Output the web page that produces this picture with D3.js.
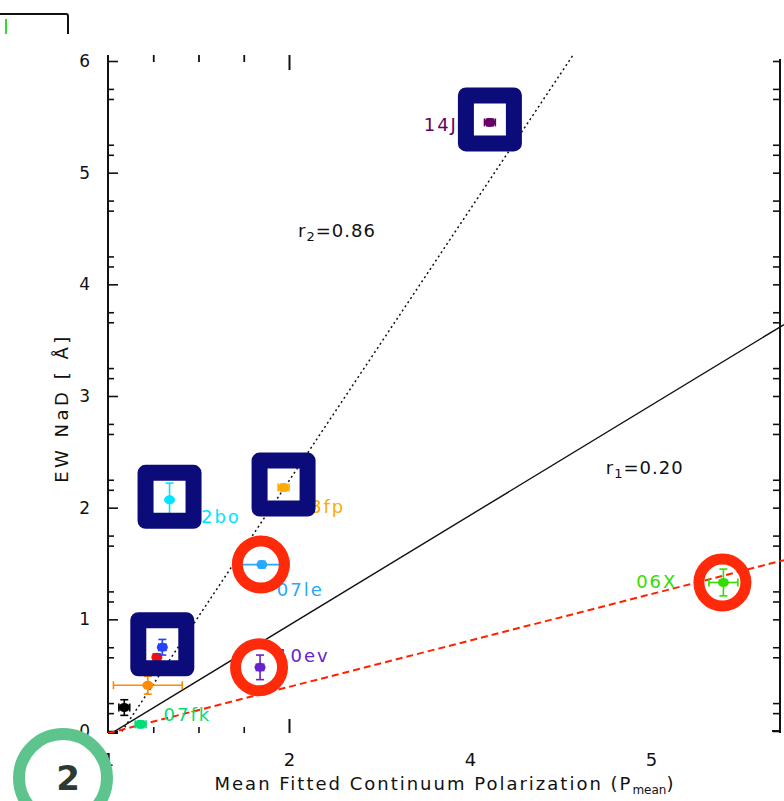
<!DOCTYPE html>
<html><head><meta charset="utf-8">
<script src="https://cdn.jsdelivr.net/npm/d3@7"></script>
<style>
body{margin:0;background:#fff}
svg{display:block}
text{font-family:"DejaVu Sans","Liberation Sans",sans-serif}
</style>
</head><body>
<svg id="chart" width="784" height="801"></svg>
<script>
// Supernovae: mean continuum polarization vs. Na I D equivalent width
const snNames = ["14J", "02bo", "08fp", "07le", "", "", "10ev", "", "", "07fk", "06X"];
const pMean   = [3.11, 1.34, 1.97, 1.85, 1.27, 1.30, 1.84, 1.22, 1.09, 1.18, 4.40];
const ewNaD   = [5.45, 2.07, 2.18, 1.49, 0.66, 0.75, 0.57, 0.41, 0.21, 0.06, 1.33];
const pErr    = [0.03, 0.00, 0.03, 0.15, 0.02, 0.02, 0.02, 0.19, 0.03, 0.03, 0.08];
const ewErr   = [0.03, 0.15, 0.03, 0.03, 0.03, 0.07, 0.11, 0.08, 0.07, 0.03, 0.12];
const pointColors = ["#660066", "#00e5ff", "#ffaa00", "#2aa8ff", "#ee1111", "#2244ff",
                     "#6622cc", "#ff8c00", "#000000", "#00dd77", "#33dd00"];

// highlighted objects
const boxedIdx   = [0, 1, 2, 5];
const circledIdx = [3, 6, 10];

// linear fits: EW = slope * P + intercept
const fitSlope     = [2.43, 0.985, 0.415];
const fitIntercept = [-2.62, -1.024, -0.435];
const fitLabels    = ["2=0.86", "1=0.20"];

// axis ticks
const yTickValues = [0, 1, 2, 3, 4, 5, 6];
const yTickLabels = ["0", "1", "2", "3", "4", "5", "6"];
const xTickValues = [1, 2, 3, 4];
const xTickLabels = ["1", "2", "4", "5"];

const svg = d3.select("#chart");
const x = d3.scaleLinear().domain([1, 1 + 676 / 181]).range([108, 784]);
const y = d3.scaleLinear().domain([0, 6]).range([731, 61]);
const X0 = 108, XR = 780, YT = 55, YB = 733;

svg.append("defs").append("clipPath").attr("id", "plotclip")
  .append("rect").attr("x", X0).attr("y", YT).attr("width", 784 - X0).attr("height", YB - YT);

// fragment of a frame in the upper-left corner
svg.append("path").attr("d", "M0,14 H66 Q68,14 68,16 V34")
  .attr("fill", "none").attr("stroke", "#111").attr("stroke-width", 2);
svg.append("line").attr("x1", 6).attr("x2", 6).attr("y1", 19).attr("y2", 34)
  .attr("stroke", "#33dd22").attr("stroke-width", 2);

// ---- axes ----
const axisG = svg.append("g").attr("stroke", "#111");
axisG.append("line").attr("x1", X0).attr("x2", X0).attr("y1", YT).attr("y2", YB).attr("stroke-width", 2);
axisG.append("line").attr("x1", XR).attr("x2", XR).attr("y1", YT + 4).attr("y2", YB).attr("stroke-width", 2);
axisG.append("line").attr("x1", X0).attr("x2", X0 + 10).attr("y1", YB).attr("y2", YB).attr("stroke-width", 2);
axisG.append("line").attr("x1", XR - 8).attr("x2", XR).attr("y1", YB - 2).attr("y2", YB - 2).attr("stroke-width", 2);

// left axis: major ticks + labels
const leftAxis = d3.axisLeft(y).tickValues(yTickValues)
  .tickFormat((d, i) => yTickLabels[i]).tickSize(-10).tickPadding(18);
const gl = svg.append("g").attr("transform", `translate(${X0},0)`).call(leftAxis);
gl.select(".domain").remove();
gl.selectAll(".tick line").attr("stroke", "#111").attr("stroke-width", 1.6);
gl.selectAll(".tick text").attr("font-size", 17).attr("fill", "#111");

// minor y ticks (pairs), left and right
const yMinor = [];
for (let k = 0; k < 6; k++) { yMinor.push(k + 0.16, k + 0.25, k + 0.66, k + 0.75); }
const gmL = svg.append("g").attr("transform", `translate(${X0},0)`)
  .call(d3.axisLeft(y).tickValues(yMinor).tickSize(-6).tickFormat(""));
gmL.select(".domain").remove();
gmL.selectAll(".tick line").attr("stroke", "#111").attr("stroke-width", 1.6);

const gr = svg.append("g").attr("transform", `translate(${XR},0)`)
  .call(d3.axisRight(y).tickValues(yTickValues.concat(yMinor)).tickSize(-7).tickFormat(""));
gr.select(".domain").remove();
gr.selectAll(".tick line").attr("stroke", "#111").attr("stroke-width", 1.6);

// bottom axis: labels at all majors, ticks only near the origin
const gb = svg.append("g").attr("transform", `translate(0,${YB})`)
  .call(d3.axisBottom(x).tickValues(xTickValues).tickFormat((d, i) => xTickLabels[i]).tickSize(0).tickPadding(20));
gb.select(".domain").remove();
gb.selectAll(".tick text").attr("font-size", 18).attr("fill", "#111");

const xMinor = [1.25, 1.5, 1.75];
const gbt = svg.append("g").attr("transform", `translate(0,${YB})`)
  .call(d3.axisBottom(x).tickValues(xMinor).tickSize(-6).tickFormat(""));
gbt.select(".domain").remove();
gbt.selectAll(".tick line").attr("stroke", "#111").attr("stroke-width", 1.6);
const gbm = svg.append("g").attr("transform", `translate(0,${YB})`)
  .call(d3.axisBottom(x).tickValues([2]).tickSize(-14).tickFormat(""));
gbm.select(".domain").remove();
gbm.selectAll(".tick line").attr("stroke", "#111").attr("stroke-width", 2);

// top axis ticks
const gt = svg.append("g").attr("transform", `translate(0,${YT})`)
  .call(d3.axisTop(x).tickValues(xMinor).tickSize(-7).tickFormat(""));
gt.select(".domain").remove();
gt.selectAll(".tick line").attr("stroke", "#111").attr("stroke-width", 1.8);
const gtm = svg.append("g").attr("transform", `translate(0,${YT})`)
  .call(d3.axisTop(x).tickValues([2]).tickSize(-15).tickFormat(""));
gtm.select(".domain").remove();
gtm.selectAll(".tick line").attr("stroke", "#111").attr("stroke-width", 2);

// axis titles
const xt = svg.append("text").attr("x", 445).attr("y", 790).attr("text-anchor", "middle")
  .attr("font-size", 18).attr("letter-spacing", 2).attr("fill", "#111");
xt.append("tspan").text("Mean Fitted Continuum Polarization (P");
xt.append("tspan").attr("font-size", 12).attr("letter-spacing", 0).attr("dy", 4).text("mean");
xt.append("tspan").attr("dy", -4).text(")");

svg.append("text").attr("transform", "translate(68,408) rotate(-90)")
  .attr("text-anchor", "middle").attr("font-size", 18).attr("letter-spacing", 3.5).attr("fill", "#111")
  .text("EW NaD [ Å]");

// ---- fit lines ----
const plot = svg.append("g").attr("clip-path", "url(#plotclip)");
const fitStyles = [
  {stroke: "#111", dash: "2,3", width: 1.5},
  {stroke: "#111", dash: null, width: 1.4},
  {stroke: "#ff2200", dash: "7,4", width: 2}
];
const xEnds = x.domain();
fitSlope.forEach((m, i) => {
  const line = d3.line().x(d => x(d)).y(d => y(m * d + fitIntercept[i]));
  plot.append("path").datum(xEnds).attr("d", line).attr("fill", "none")
    .attr("stroke", fitStyles[i].stroke).attr("stroke-width", fitStyles[i].width)
    .attr("stroke-dasharray", fitStyles[i].dash);
});

// correlation labels
const fitLabelPos = [[2.05, 4.42], [3.75, 2.30]];
fitLabels.forEach((t, i) => {
  const tx = svg.append("text").attr("x", x(fitLabelPos[i][0])).attr("y", y(fitLabelPos[i][1]))
    .attr("font-size", 18).attr("letter-spacing", 1).attr("fill", "#111");
  tx.append("tspan").text("r");
  tx.append("tspan").attr("font-size", 13).attr("dy", 4).text(t.slice(0, 1));
  tx.append("tspan").attr("dy", -4).text(t.slice(1));
});

// ---- data points with error bars ----
const pts = snNames.map((n, i) => ({name: n, p: pMean[i], ew: ewNaD[i], ep: pErr[i], ee: ewErr[i], c: pointColors[i]}));
const labelOff = {"14J": [-32, 9, "end"], "02bo": [18, 23, "start"], "08fp": [13, 25, "start"],
                  "07le": [15, 31, "start"], "10ev": [17, -5, "start"], "07fk": [23, -3, "start"],
                  "06X": [-46, 6, "end"]};

// labels drawn first so the highlight frames sit over them
pts.forEach(d => {
  if (!d.name) return;
  const o = labelOff[d.name];
  svg.append("text").attr("x", x(d.p) + o[0]).attr("y", y(d.ew) + o[1])
    .attr("text-anchor", o[2]).attr("font-size", 18).attr("letter-spacing", 2)
    .attr("fill", d.c).text(d.name);
});

const pg = svg.append("g");
pts.forEach(d => {
  const g = pg.append("g").attr("stroke", d.c).attr("stroke-width", 1.6);
  const cx = x(d.p), cy = y(d.ew);
  if (d.ee > 0) {
    const y1 = y(d.ew + d.ee), y2 = y(d.ew - d.ee);
    g.append("line").attr("x1", cx).attr("x2", cx).attr("y1", y1).attr("y2", y2);
    g.append("line").attr("x1", cx - 4).attr("x2", cx + 4).attr("y1", y1).attr("y2", y1);
    g.append("line").attr("x1", cx - 4).attr("x2", cx + 4).attr("y1", y2).attr("y2", y2);
  }
  if (d.ep > 0) {
    const x1 = x(d.p - d.ep), x2 = x(d.p + d.ep);
    g.append("line").attr("x1", x1).attr("x2", x2).attr("y1", cy).attr("y2", cy);
    g.append("line").attr("x1", x1).attr("x2", x1).attr("y1", cy - 4).attr("y2", cy + 4);
    g.append("line").attr("x1", x2).attr("x2", x2).attr("y1", cy - 4).attr("y2", cy + 4);
  }
  g.append("ellipse").attr("cx", cx).attr("cy", cy).attr("rx", 5.5).attr("ry", 4.5)
    .attr("fill", d.c).attr("stroke", "none");
});

// ---- highlight frames ----
boxedIdx.forEach(i => {
  svg.append("rect").attr("x", x(pMean[i]) - 24).attr("y", y(ewNaD[i]) - 27)
    .attr("width", 48).attr("height", 48).attr("fill", "none")
    .attr("stroke", "#0b0b7a").attr("stroke-width", 16).attr("stroke-linejoin", "round");
});
circledIdx.forEach(i => {
  svg.append("circle").attr("cx", x(pMean[i]) - 1).attr("cy", y(ewNaD[i]))
    .attr("r", 23.5).attr("fill", "none").attr("stroke", "#ff2a0a").attr("stroke-width", 11);
});

// numbered badge, lower left
svg.append("circle").attr("cx", 63).attr("cy", 778).attr("r", 44)
  .attr("fill", "#fff").attr("stroke", "#5cc48c").attr("stroke-width", 12);
svg.append("text").attr("x", 68).attr("y", 790).attr("text-anchor", "middle")
  .attr("font-size", 34).attr("font-weight", "bold").attr("fill", "#2b3a33").text("2");
</script>
</body></html>
